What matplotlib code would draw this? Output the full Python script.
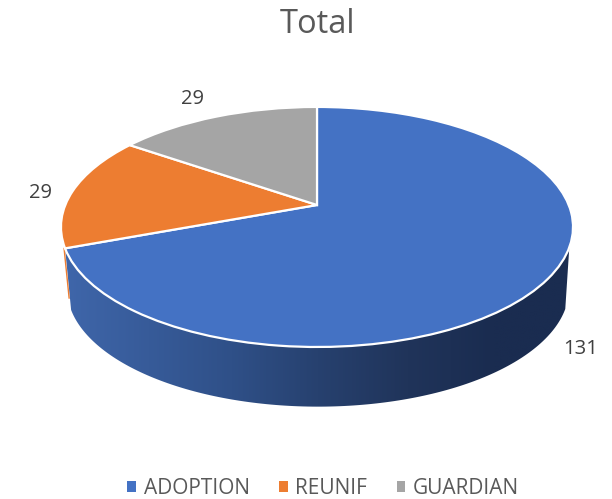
import numpy as np
import matplotlib
matplotlib.use("Agg")
import matplotlib.pyplot as plt
from matplotlib.transforms import Transform
from matplotlib.path import Path
from matplotlib.patches import PathPatch
from matplotlib.colors import LinearSegmentedColormap

categories = ["ADOPTION", "REUNIF", "GUARDIAN"]
values = [131, 29, 29]
colors = ["#4472C4", "#ED7D31", "#A5A5A5"]
title = "Total"
FONT = "Open Sans"
TEXT = "#595959"


class Perspective(Transform):
    """Tilted-disc projection of the unit-circle pie into pixel space."""
    input_dims = 2
    output_dims = 2
    is_separable = False
    has_inverse = False

    def __init__(self, cx, cy, a=251.7, b=116.0, k=0.183, s=1.0):
        super().__init__()
        self.cx, self.cy, self.a, self.b, self.k, self.s = cx, cy, a, b, k, s

    def transform_non_affine(self, values):
        xy = np.asarray(values, dtype=float)
        d = 1 + self.k * xy[:, 1]
        return np.column_stack([
            self.cx + self.s * self.a * xy[:, 0] / d,
            self.cy - self.s * self.b * xy[:, 1] / d,
        ])


fig = plt.figure(figsize=(6.12, 4.99), dpi=100, facecolor="white")
ax = fig.add_axes([0, 0, 1, 1])

top = Perspective(317, 205)
bottom = Perspective(318, 267.5, s=0.98)

wedges, _ = ax.pie(values, colors=colors, startangle=90, counterclock=False,
                   wedgeprops=dict(edgecolor="white", linewidth=1.6))
ax.set_aspect("auto")
ax.set_xlim(0, 612)
ax.set_ylim(499, 0)
ax.set_axis_off()
for w in wedges:
    w.set_transform(top + ax.transData)
    w.set_zorder(5)


def rim(tr, angles_deg):
    th = np.radians(angles_deg)
    return tr.transform(np.column_stack([-np.sin(th), np.cos(th)]))


# Side wall of the pie (angles measured counter-clockwise from the top)
boundary = (values[1] + values[2]) / sum(values) * 360
arc = np.linspace(boundary, 250, 160)
side = np.vstack([rim(top, arc), rim(bottom, arc[::-1])])
side_path = Path(np.vstack([side, side[0]]), closed=True)
clip = PathPatch(side_path, transform=ax.transData, facecolor="none", edgecolor="none")
ax.add_patch(clip)
cmap = LinearSegmentedColormap.from_list(
    "side", [(0, "#3F66AA"), (0.33, "#2F5088"), (0.5, "#27416F"),
             (0.68, "#20345A"), (0.85, "#1A2C50"), (1, "#1A2C50")])
x_lo, x_hi = side[:, 0].min(), side[:, 0].max()
img = ax.imshow(np.linspace(0, 1, 256)[None, :], cmap=cmap, aspect="auto",
                extent=(x_lo, x_hi, 430, 200), zorder=2, interpolation="bilinear")
img.set_clip_path(clip)
ax.set_xlim(0, 612)
ax.set_ylim(499, 0)

# Thin sliver of the orange wall at the left edge
p0 = rim(top, [boundary - 1.0, boundary])
p1 = rim(bottom, [boundary])
ax.plot([p0[1, 0] - 1, p1[0, 0] - 2], [p0[1, 1], p1[0, 1] - 12],
        color=colors[1], lw=1.0, zorder=3)

# Data labels
for (x, y), v in zip([(581, 349), (40, 193), (193, 99)], values):
    ax.text(x, y, str(v), ha="center", va="center", fontsize=14.5,
            color="#404040", family=FONT)

ax.text(317, 24, title, ha="center", va="center", fontsize=23.5,
        color=TEXT, family=FONT)

leg = ax.legend(wedges, categories, loc="center", bbox_to_anchor=(0.528, 0.021),
                ncol=3, frameon=False, handlelength=0.42, handleheight=0.42,
                handletextpad=0.38, columnspacing=1.4, borderpad=0, borderaxespad=0,
                prop=dict(family=FONT, size=15), labelcolor=TEXT)
for h in leg.legend_handles:
    h.set_edgecolor("none")

fig.savefig("out.png", dpi=100)
